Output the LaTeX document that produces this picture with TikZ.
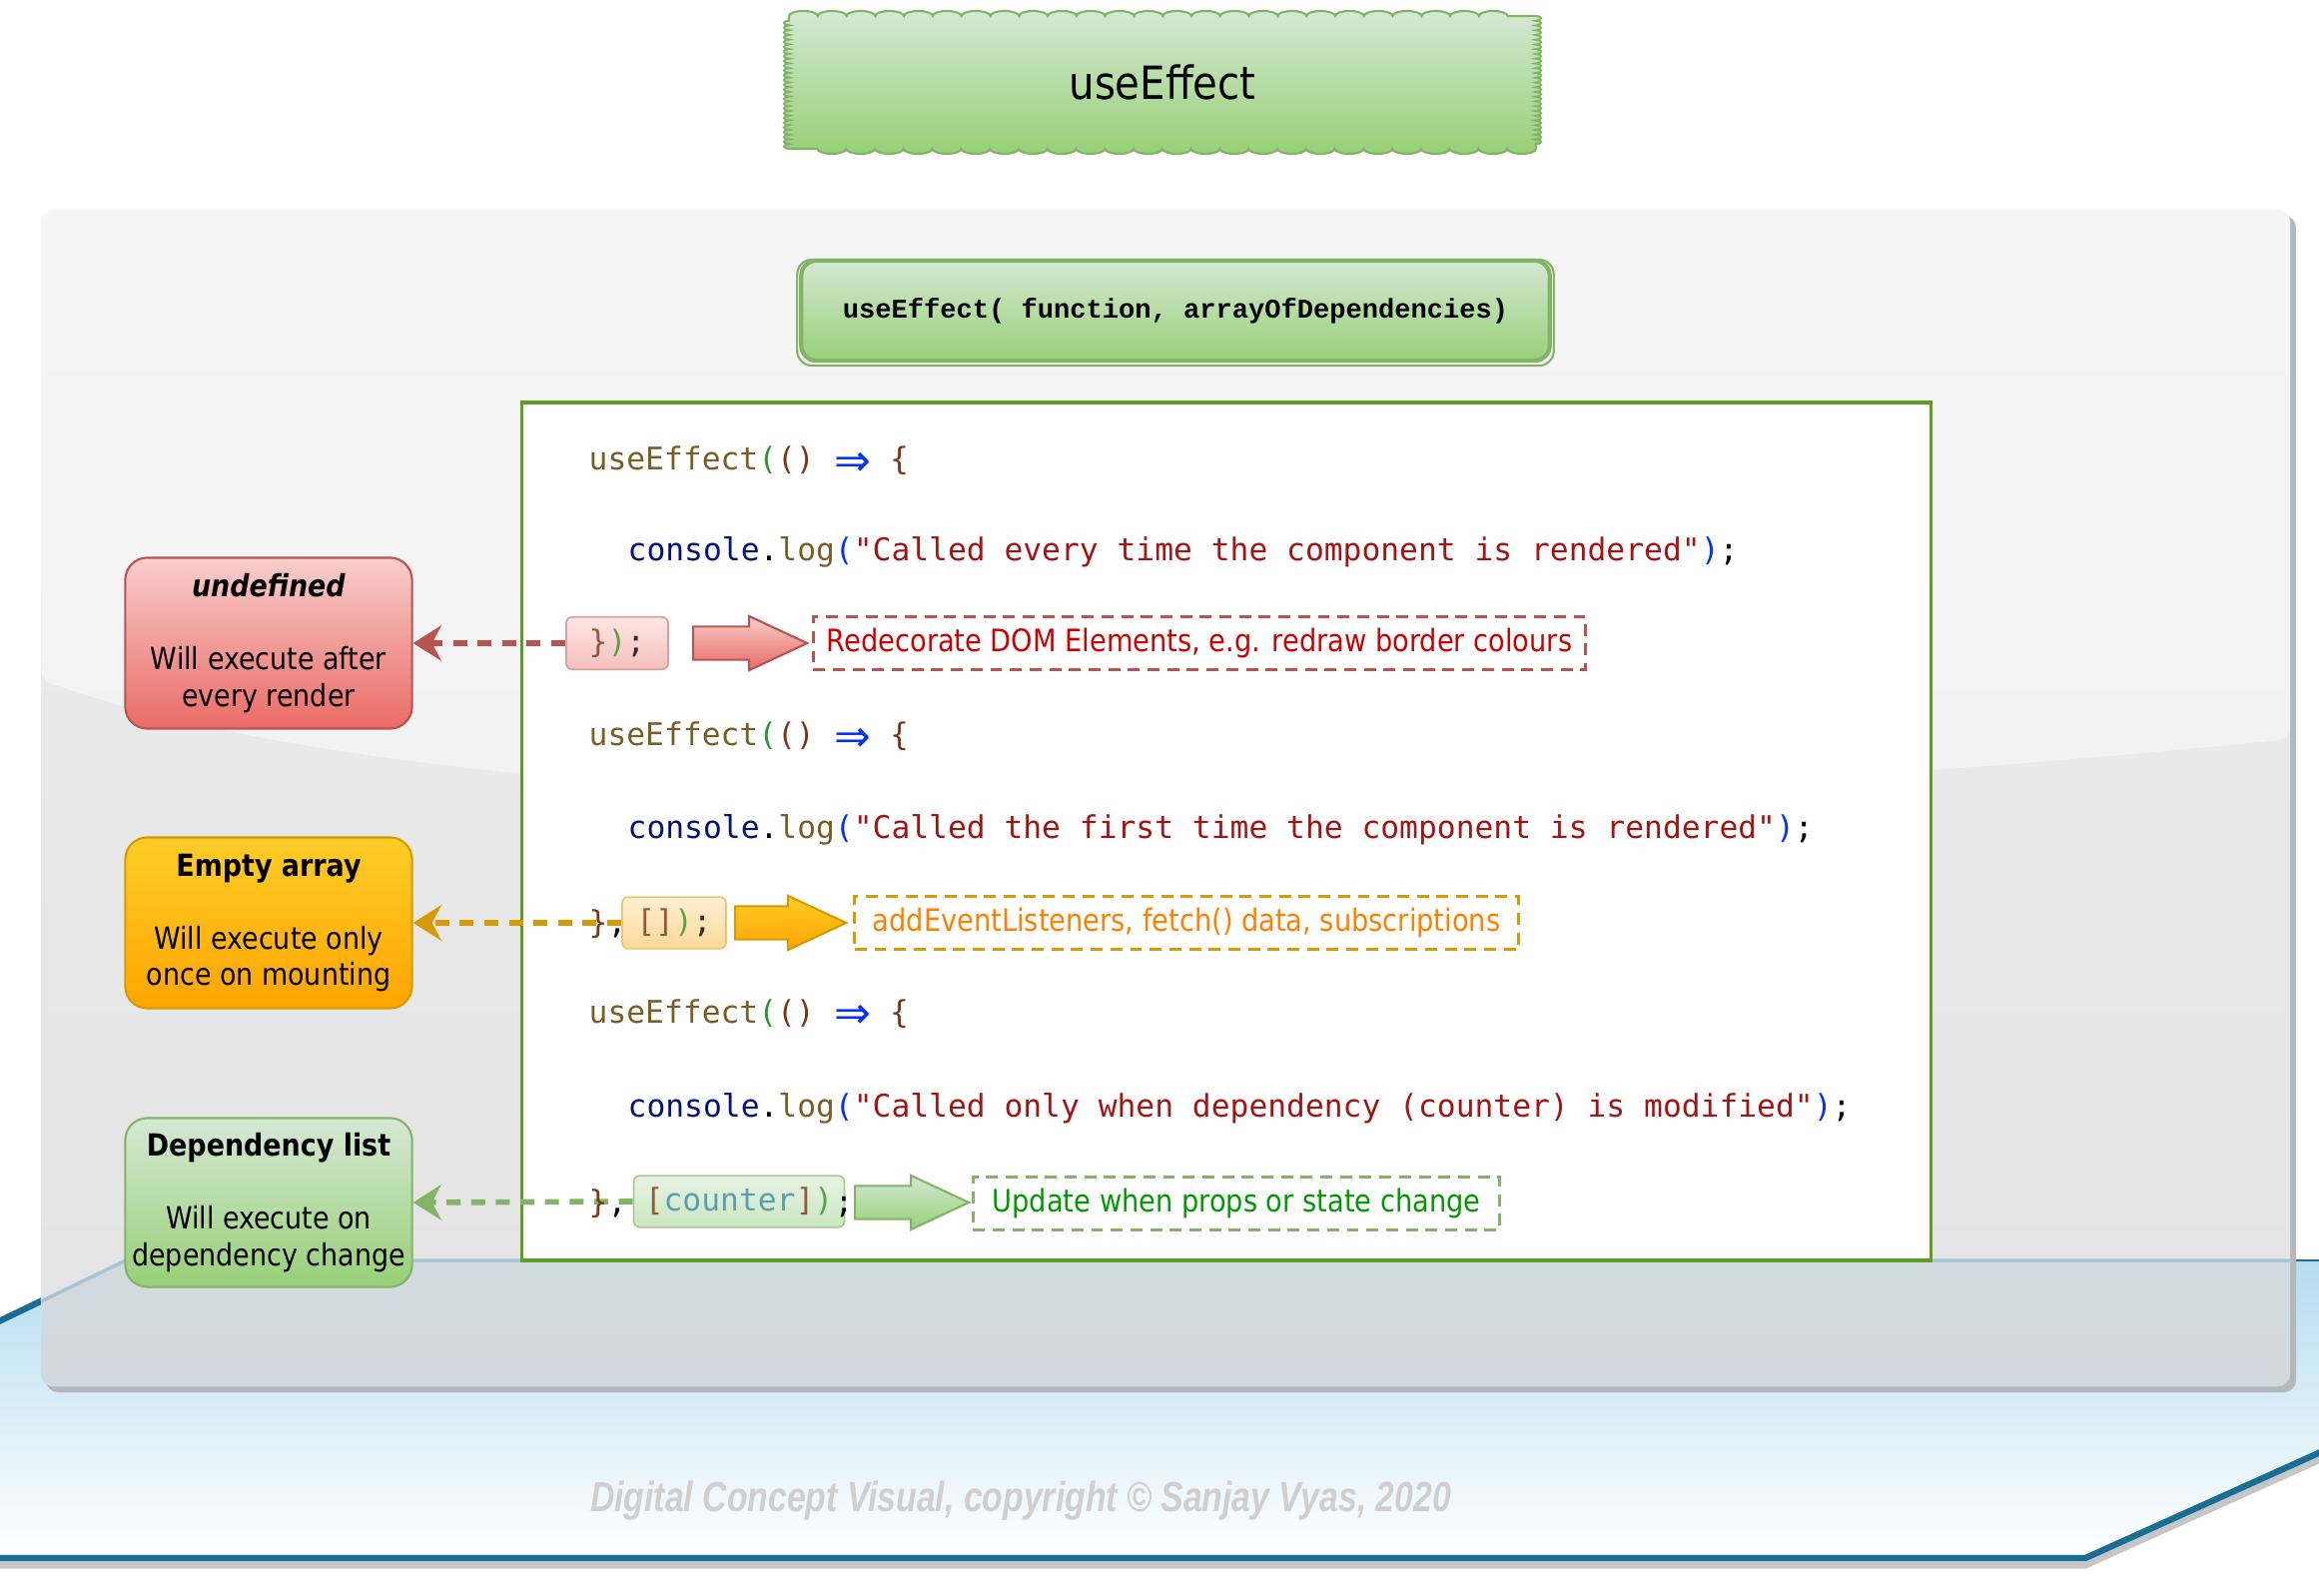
\documentclass[tikz,border=0pt]{standalone}
\usepackage{fontspec}
\setmainfont[FakeStretch=0.88]{DejaVu Sans}
\setmonofont{DejaVu Sans Mono}
\newfontfamily\sigfont{Liberation Mono}
\newfontfamily\markfont[FakeStretch=0.8]{Liberation Sans}
\newfontfamily\opfont{DejaVu Sans}
\usepackage{tikz}
\usetikzlibrary{positioning, shapes.arrows, arrows.meta, decorations.pathmorphing}

\definecolor{greentop}{HTML}{D5E8D4}
\definecolor{greenbot}{HTML}{97D077}
\definecolor{greenline}{HTML}{82B366}
\definecolor{redtop}{HTML}{F8CECC}
\definecolor{redbot}{HTML}{EA6B66}
\definecolor{redline}{HTML}{B85450}
\definecolor{orangetop}{HTML}{FFCD28}
\definecolor{orangebot}{HTML}{FFA500}
\definecolor{orangeline}{HTML}{D79B00}
\definecolor{codeline}{HTML}{5C9E1E}
\definecolor{redtext}{HTML}{CC0000}
\definecolor{orangetext}{HTML}{FF8000}
\definecolor{greentext}{HTML}{009900}
\definecolor{codefn}{HTML}{795E26}
\definecolor{brgreen}{HTML}{319331}
\definecolor{brbrown}{HTML}{7B3814}
\definecolor{codeblue}{HTML}{0431FA}
\definecolor{codevar}{HTML}{001080}
\definecolor{codestr}{HTML}{A31515}
\definecolor{codeid}{HTML}{3A8CA8}
\definecolor{paneltop}{HTML}{EEEEEE}
\definecolor{panelbot}{HTML}{E3E3E3}
\definecolor{panelshadow}{HTML}{B4B8BB}
\definecolor{bluetop}{HTML}{B5DCF0}
\definecolor{blueline}{HTML}{1A6E96}
\definecolor{bluetint}{HTML}{A8C4D4}
\definecolor{markgray}{HTML}{CFCFCF}
\definecolor{redfragtop}{HTML}{FDE6E5}
\definecolor{redfragbot}{HTML}{F6BFBD}
\definecolor{orangefragtop}{HTML}{FFEFD2}
\definecolor{orangefragbot}{HTML}{FFD899}
\definecolor{greenfragtop}{HTML}{E7F3E3}
\definecolor{greenfragbot}{HTML}{CBE6BF}

\newcommand{\arrowop}{\textcolor{codeblue}{\makebox[1.204em]{\raisebox{-1.6pt}{\opfont\fontsize{12.5}{10}\selectfont ⇒}}}}

\tikzstyle{sidebox} = [rectangle, rounded corners=0.22cm, inner xsep=0pt, minimum width=2.87cm, minimum height=1.71cm, align=center, line width=0.6pt, font=\fontsize{8.7}{10.4}\selectfont]
\tikzstyle{undefbox} = [sidebox, draw=redline, top color=redtop, bottom color=redbot]
\tikzstyle{emptybox} = [sidebox, draw=orangeline, top color=orangetop, bottom color=orangebot]
\tikzstyle{depbox} = [sidebox, draw=greenline, top color=greentop, bottom color=greenbot]
\tikzstyle{codetext} = [anchor=base west, inner sep=0pt, font=\ttfamily\fontsize{8.9}{10}\selectfont]
\tikzstyle{frag} = [rectangle, rounded corners=0.06cm, inner xsep=0pt, minimum height=0.51cm, line width=0.5pt, text opacity=0.8, font=\ttfamily\fontsize{8.9}{10}\selectfont]
\tikzstyle{redfrag} = [frag, draw=redline!55, top color=redfragtop, bottom color=redfragbot]
\tikzstyle{orangefrag} = [frag, draw=orangeline!55, top color=orangefragtop, bottom color=orangefragbot]
\tikzstyle{greenfrag} = [frag, draw=greenline!70, top color=greenfragtop, bottom color=greenfragbot]
\tikzstyle{blockarrow} = [single arrow, anchor=tail, inner xsep=0pt, inner ysep=0.155cm, single arrow head extend=0.105cm, single arrow tip angle=50, minimum height=1.14cm, line width=0.6pt]
\tikzstyle{note} = [rectangle, line width=0.8pt, dash pattern=on 3.4pt off 2.2pt, minimum height=0.5cm, font=\fontsize{8.8}{10}\selectfont]
\tikzstyle{link} = [line width=1.6pt, dash pattern=on 4pt off 3pt, -{Stealth[length=8pt, width=10pt]}]
\tikzstyle{sigbox} = [rectangle, rounded corners=0.15cm, draw=greenline, line width=1.2pt, top color=greentop, bottom color=greenbot, minimum width=7.49cm, minimum height=1cm, font=\sigfont\bfseries\fontsize{7.7}{9}\selectfont]
\tikzstyle{wavelong} = [decoration={bumps, segment length=0.5754cm, amplitude=0.05cm}]
\tikzstyle{waveshort} = [decoration={bumps, segment length=0.095cm, amplitude=0.05cm}]

\begin{document}
\begin{tikzpicture}[x=0.01cm, y=-0.01cm]
\useasboundingbox (0,0) rectangle (2322,1598);
\clip (0,0) rectangle (2322,1598);

\draw[gray!45, line width=2pt] (-495,1567) -- (2088,1567) -- (2750,1269);
\shade[top color=bluetop, bottom color=white] (126,1262) -- (2750,1262) -- (2088,1560) -- (-495,1560) -- cycle;
\draw[blueline, line width=0.8pt] (126,1262) -- (2750,1262);
\draw[blueline, line width=1.8pt, line join=round] (2750,1262) -- (2088,1560) -- (-495,1560);
\draw[blueline, line width=1.8pt] (126,1262) -- (-495,1560);

\fill[panelshadow, rounded corners=0.12cm] (46,216) rectangle (2299,1394);
\shade[top color=paneltop, bottom color=panelbot, rounded corners=0.12cm] (41,210) rectangle (2293,1388);
\fill[white, opacity=0.45, rounded corners=0.12cm] (41,681) .. controls (500,840) and (1500,820) .. (2293,740) -- (2293,210) -- (41,210) -- cycle;
\begin{scope}
\clip (126,1262) -- (2750,1262) -- (2088,1560) -- (-495,1560) -- cycle;
\fill[bluetint, opacity=0.3, rounded corners=0.12cm] (41,210) rectangle (2293,1388);
\end{scope}
\draw[bluetint, line width=1pt] (41,1303) -- (126,1262) -- (2293,1262);

\shade[top color=greentop, bottom color=greenbot] (790,16) rectangle (1538,149)
  decorate[wavelong] {(790,16) -- (1538,16)}
  decorate[waveshort] {(1538,16) -- (1538,149)}
  decorate[wavelong] {(1538,149) -- (790,149)}
  decorate[waveshort] {(790,149) -- (790,16)};
\draw[greenline, line width=0.6pt]
  decorate[wavelong] {(790,16) -- (1538,16)}
  decorate[waveshort] {(1538,16) -- (1538,149)}
  decorate[wavelong] {(1538,149) -- (790,149)}
  decorate[waveshort] {(790,149) -- (790,16)};
\node (title) [font=\fontsize{13}{15}\selectfont] at (1164,82) {useEffect};

\node (sig) [sigbox] at (1177,311) {useEffect( function, arrayOfDependencies)};
\draw[greenline, line width=0.6pt, rounded corners=0.15cm] ([shift={(-2,1)}]sig.north west) rectangle ([shift={(2,3)}]sig.south east);

\node (code) [draw=codeline, line width=1pt, fill=white, minimum width=14.1cm, minimum height=8.59cm] at (1228,832.5) {};

\node (effect1) [codetext] at (589,471) {\textcolor{codefn}{useEffect}\textcolor{brgreen}{(}\textcolor{brbrown}{()} \arrowop{} \textcolor{brbrown}{\{}};
\node (log1) [codetext] at (628,562) {\textcolor{codevar}{console}.\textcolor{codefn}{log}\textcolor{codeblue}{(}\textcolor{codestr}{"Called every time the component is rendered"}\textcolor{codeblue}{)};};
\node (close1) [redfrag, minimum width=1.02cm] at (618,644) {\textcolor{brbrown}{\}}\textcolor{brgreen}{)};};

\node (effect2) [codetext] at (589,747) {\textcolor{codefn}{useEffect}\textcolor{brgreen}{(}\textcolor{brbrown}{()} \arrowop{} \textcolor{brbrown}{\{}};
\node (log2) [codetext] at (628,839) {\textcolor{codevar}{console}.\textcolor{codefn}{log}\textcolor{codeblue}{(}\textcolor{codestr}{"Called the first time the component is rendered"}\textcolor{codeblue}{)};};
\node (close2) [orangefrag, minimum width=1.04cm] at (675,924) {\textcolor{brbrown}{[]}\textcolor{brgreen}{)};};

\node (effect3) [codetext] at (589,1024) {\textcolor{codefn}{useEffect}\textcolor{brgreen}{(}\textcolor{brbrown}{()} \arrowop{} \textcolor{brbrown}{\{}};
\node (log3) [codetext] at (628,1118) {\textcolor{codevar}{console}.\textcolor{codefn}{log}\textcolor{codeblue}{(}\textcolor{codestr}{"Called only when dependency (counter) is modified"}\textcolor{codeblue}{)};};
\node (close3) [greenfrag, minimum width=2.11cm] at (740,1203) {\textcolor{brbrown}{[}\textcolor{codeid}{counter}\textcolor{brbrown}{]}\textcolor{brgreen}{)}};
\node (semi3) [codetext] at (835,1214) {;};

\node (redarrow) [blockarrow, draw=redline, top color=redtop, bottom color=redbot] at (693,644) {};
\node (orangearrow) [blockarrow, draw=orangeline, top color=orangetop, bottom color=orangebot, minimum height=1.11cm] at (735,924) {};
\node (greenarrow) [blockarrow, draw=greenline, top color=greentop, bottom color=greenbot] at (855,1204) {};

\node (rednote) [note, draw=redline, text=redtext, minimum width=7.73cm] at (1201,644) {Redecorate DOM Elements, e.g. redraw border colours};
\node (orangenote) [note, draw=orangeline, text=orangetext, minimum width=6.64cm] at (1188,924) {addEventListeners, fetch() data, subscriptions};
\node (greennote) [note, draw=greenline, text=greentext, minimum width=5.27cm, minimum height=0.52cm] at (1238,1205) {Update when props or state change};

\node (undef) [undefbox] at (269,644) {\textbf{\textit{undefined}}\\[10.4pt]Will execute after\\every render};
\node (empty) [emptybox] at (269,924) {\textbf{Empty array}\\[10.4pt]Will execute only\\once on mounting};
\node (deplist) [depbox, minimum height=1.69cm] at (269,1204) {\textbf{Dependency list}\\[10.4pt]Will execute on\\dependency change};

\draw[link, redline] (close1.west) -- (undef.east);
\draw[link, orangeline] (close2.west) -- (empty.east);
\draw[link, greenline] (close3.west) -- (deplist.east);

\node (comma2) [codetext] at (589,934) {\textcolor{brbrown}{\}},};
\node (comma3) [codetext] at (589,1214) {\textcolor{brbrown}{\}},};

\node (mark) [font=\markfont\bfseries\itshape\fontsize{12}{14}\selectfont, text=markgray] at (1022,1503) {Digital Concept Visual, copyright © Sanjay Vyas, 2020};

\end{tikzpicture}
\end{document}
